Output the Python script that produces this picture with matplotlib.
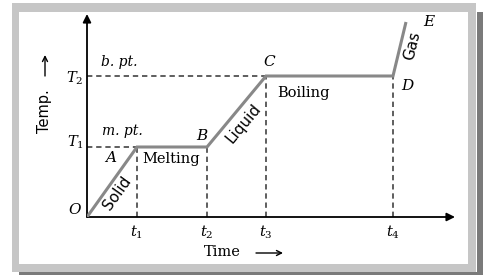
import numpy as np
import matplotlib
matplotlib.use('Agg')
import matplotlib.pyplot as plt
from matplotlib.patches import Rectangle, FancyArrowPatch

# heating curve points O..E (time, temperature) in arbitrary units
point_names = ['O', 'A', 'B', 'C', 'D', 'E']
time_pts = [0, 50, 120, 179, 306, 319]
temp_pts = [0, 70, 70, 141, 141, 195]
phase_names = ['Solid', 'Melting', 'Liquid', 'Boiling', 'Gas']
time_ticks = ['$t_1$', '$t_2$', '$t_3$', '$t_4$']
temp_ticks = ['$T_1$', '$T_2$']
temp_notes = ['m. pt.', 'b. pt.']

plt.rcParams['mathtext.fontset'] = 'dejavuserif'
W, H = 487, 275
fig = plt.figure(figsize=(W / 100, H / 100), dpi=100)

def fx(x):
    return x / W

def fy(y):
    return (H - y) / H

# frame: light gray border, dark drop shadow, white inside
def box(x0, y0, x1, y1, c):
    fig.add_artist(Rectangle((fx(x0), fy(y1)), (x1 - x0) / W, (y1 - y0) / H,
                             transform=fig.transFigure, color=c, lw=0, zorder=-10))

box(477, 12, 483, 275, '#7a7a7a')
box(19, 272, 483, 275, '#7a7a7a')
box(12, 3, 476, 272, '#c6c6c6')
box(19, 12, 468, 264, 'white')

ax = fig.add_axes([fx(87), fy(217), 368 / W, 203 / H])
ax.set_xlim(0, 368)
ax.set_ylim(0, 203)
ax.axis('off')

# axes arrows
arr = dict(arrowstyle='-|>', color='black', lw=1.3, mutation_scale=12, shrinkA=0, shrinkB=0)
ax.annotate('', xy=(368, 0), xytext=(0, 0), arrowprops=arr, annotation_clip=False)
ax.annotate('', xy=(0, 203), xytext=(0, 0), arrowprops=arr, annotation_clip=False)

# dashed guides
dash = dict(color='#333333', lw=1.1, ls=(0, (3.5, 2.5)))
ax.plot([0, time_pts[1]], [temp_pts[1]] * 2, **dash)
ax.plot([0, time_pts[3]], [temp_pts[3]] * 2, **dash)
for i in [1, 2, 3, 4]:
    ax.plot([time_pts[i]] * 2, [0, temp_pts[i]], **dash)

# heating curve
ax.plot(time_pts, temp_pts, color='#888888', lw=2.2, solid_capstyle='butt', solid_joinstyle='miter', zorder=3)

# point labels
pt_off = [(-12, 7), (-26, -10), (-5, 12), (4, 14), (15, -9), (24, 1)]
for name, x, y, off in zip(point_names, time_pts, temp_pts, pt_off):
    ax.annotate('$' + name + '$', (x, y), xytext=off, textcoords='offset pixels',
                ha='center', va='center', fontsize=11, annotation_clip=False)

# time tick labels
for lab, x in zip(time_ticks, time_pts[1:5]):
    ax.annotate(lab, (x, 0), xytext=(0, -15), textcoords='offset pixels',
                ha='center', va='center', fontsize=10.5, annotation_clip=False)

# temperature labels
for lab, y, off in zip(temp_ticks, [temp_pts[1], temp_pts[3]], [(-12, 5), (-12, -2)]):
    ax.annotate(lab, (0, y), xytext=off, textcoords='offset pixels',
                ha='center', va='center', fontsize=10.5, annotation_clip=False)
for note, y, off in zip(temp_notes, [temp_pts[1], temp_pts[3]], [(35, 16), (32, 14)]):
    ax.annotate(note, (0, y), xytext=off, textcoords='offset pixels', family='DejaVu Serif',
                style='italic', ha='center', va='center', fontsize=10, annotation_clip=False)

# phase labels
segs = [(0, 1), (1, 2), (2, 3), (3, 4), (4, 5)]
ph_off = [(5, -11), (-1, -12), (6.5, -11.5), (-26, -17), (12.5, 3)]
sans = [True, False, True, False, True]
for name, (i, j), off, s in zip(phase_names, segs, ph_off, sans):
    p1 = ax.transData.transform((time_pts[i], temp_pts[i]))
    p2 = ax.transData.transform((time_pts[j], temp_pts[j]))
    ang = np.degrees(np.arctan2(p2[1] - p1[1], p2[0] - p1[0])) if s else 0
    mid = ((time_pts[i] + time_pts[j]) / 2, (temp_pts[i] + temp_pts[j]) / 2)
    ax.annotate(name, mid, xytext=off, textcoords='offset pixels', rotation=ang,
                rotation_mode='anchor', ha='center', va='center',
                family='DejaVu Sans' if s else 'DejaVu Serif',
                fontsize=11 if s else 10.5, annotation_clip=False)

# axis titles with arrows
fig.text(fx(222), fy(252), 'Time', ha='center', va='center', family='DejaVu Serif', fontsize=10.5)
fig.text(fx(45), fy(111), 'Temp.', ha='center', va='center', rotation=90, family='DejaVu Sans', fontsize=10.5)
small = dict(arrowstyle='->', color='black', lw=1.0, mutation_scale=9, shrinkA=0, shrinkB=0)
fig.add_artist(FancyArrowPatch((fx(256), fy(253)), (fx(283), fy(253)), transform=fig.transFigure, **small))
fig.add_artist(FancyArrowPatch((fx(45), fy(76)), (fx(45), fy(55)), transform=fig.transFigure, **small))

plt.savefig('out.png', dpi=100)
